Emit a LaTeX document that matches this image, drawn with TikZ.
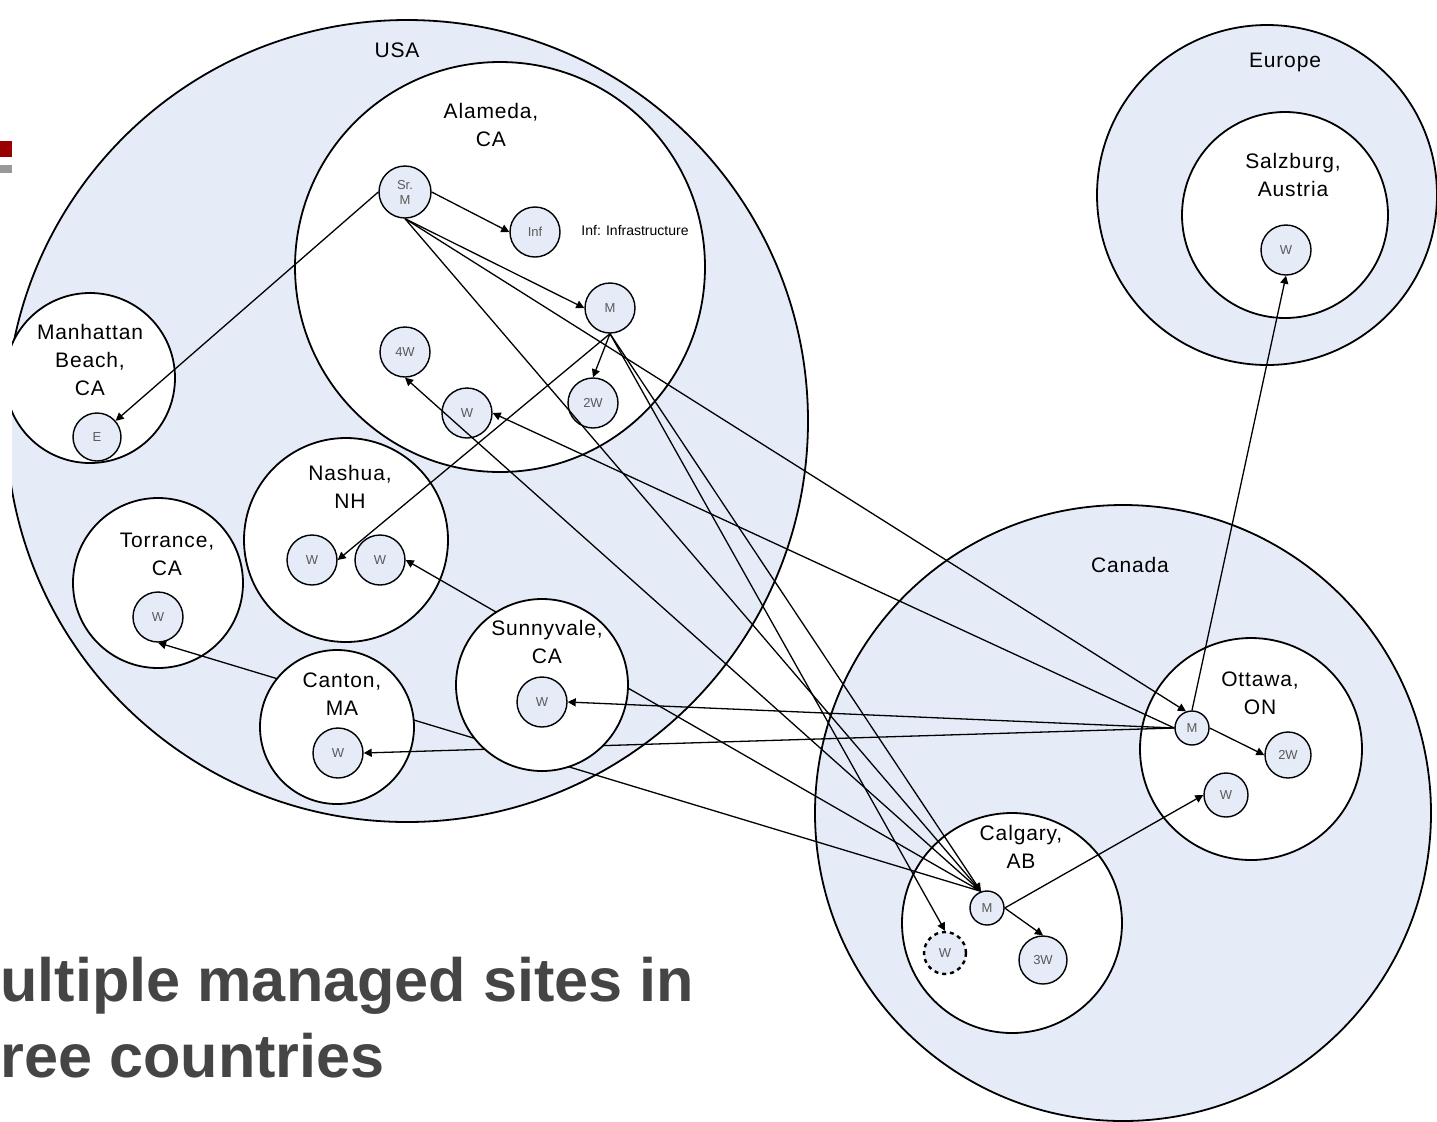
\documentclass[tikz,border=0pt]{standalone}
\usepackage{fontspec}
\setmainfont{Liberation Sans}
\newfontfamily\lblfont[LetterSpace=4]{Liberation Sans}
\usetikzlibrary{arrows.meta}
\definecolor{cbl}{RGB}{229,235,247}
\definecolor{ttl}{RGB}{69,69,69}
\definecolor{dred}{RGB}{153,0,0}
\definecolor{ntxt}{RGB}{90,90,90}
\begin{document}
\begin{tikzpicture}[x=0.5pt,y=-0.5pt,
  country/.style={circle, draw, line width=0.9pt, fill=cbl, inner sep=0pt},
  site/.style={circle, draw, line width=0.9pt, fill=white, inner sep=0pt},
  comp/.style={circle, draw, line width=0.7pt, fill=cbl, inner sep=0pt, align=center,
    font=\fontsize{6.5}{7.5}\selectfont, text=ntxt},
  lbl/.style={font=\lblfont\fontsize{10.5}{14}\selectfont, align=center, inner sep=0pt},
  arr/.style={-{Triangle[length=4pt,width=4pt]}, line width=0.65pt},
  ttlstyle/.style={anchor=base west, inner sep=0pt, font=\fontsize{30.6}{37}\selectfont\bfseries, text=ttl},
]
\useasboundingbox (0,0) rectangle (1437,1121);
\fill[white] (0,0) rectangle (1437,1121);
\fill[dred] (0,141) rectangle (12,157);
\fill[black!40] (0,165) rectangle (12,173);
\begin{scope}
\clip (12,0) rectangle (1437,1121);
% countries
\node[country, minimum size=401pt] (usa) at (407,421) {};
\node[country, minimum size=308pt] (canada) at (1123,813) {};
\node[country, minimum size=170pt] (europe) at (1267,195) {};
\node[lbl] (usaL) at (397,50) {USA};
\node[lbl] (canadaL) at (1130,565) {Canada};
\node[lbl] (europeL) at (1285,62) {Europe};
% sites
\node[site, minimum size=205pt] (alameda) at (500,267) {};
\node[site, minimum size=85pt] (manhattan) at (90,378) {};
\node[site, minimum size=85pt] (torrance) at (158,583) {};
\node[site, minimum size=102pt] (nashua) at (346,540) {};
\node[site, minimum size=111pt] (ottawa) at (1251,749) {};
\node[site, minimum size=110pt] (calgary) at (1012,923) {};
\node[site, minimum size=103pt] (salzburg) at (1285,215) {};
\node[lbl] (alamedaL) at (491,125) {Alameda,\\CA};
\node[lbl] (manhattanL) at (90,360) {Manhattan\\Beach,\\CA};
\node[lbl] (torranceL) at (167,554) {Torrance,\\CA};
\node[lbl] (nashuaL) at (350,487) {Nashua,\\NH};
\node[lbl] (ottawaL) at (1260,693) {Ottawa,\\ON};
\node[lbl] (calgaryL) at (1021,847) {Calgary,\\AB};
\node[lbl] (salzburgL) at (1293,175) {Salzburg,\\Austria};
\node[font=\fontsize{7}{8}\selectfont, inner sep=0pt] (infL) at (635,230) {Inf: Infrastructure};
% components
\node[comp, minimum size=26pt] (srm) at (405,192) {Sr.\\M};
\node[comp, minimum size=25pt] (inf) at (535,232) {Inf};
\node[comp, minimum size=25pt] (almM) at (610,308) {M};
\node[comp, minimum size=25pt] (w4) at (405,352) {4W};
\node[comp, minimum size=25pt] (walm) at (467,413) {W};
\node[comp, minimum size=25pt] (a2w) at (593,403) {2W};
\node[comp, minimum size=24pt] (eE) at (97,437) {E};
\node[comp, minimum size=25pt] (nwl) at (312,560) {W};
\node[comp, minimum size=25pt] (nwr) at (380,560) {W};
\node[comp, minimum size=25pt] (tw) at (158,617) {W};
\node[comp, minimum size=25pt] (salW) at (1286,250) {W};
\node[comp, minimum size=17pt] (ottM) at (1192,728) {M};
\node[comp, minimum size=23pt] (o2w) at (1288,755) {2W};
\node[comp, minimum size=22pt] (ow) at (1226,795) {W};
\node[comp, minimum size=17pt] (calM) at (987,908) {M};
\node[comp, minimum size=21pt, line width=1.2pt, dash pattern=on 2pt off 2pt] (wd) at (945,953) {W};
\node[comp, minimum size=24pt] (c3w) at (1043,960) {3W};
% connectors
\draw[arr] (srm.east) -- (inf.west);
\draw[arr] (srm.west) -- (eE);
\draw[arr] (srm.south) -- (almM.west);
\draw[arr] (srm.south) -- (ottM.110);
\draw[arr] (srm.south) -- (calM.110);
\draw[arr] (almM.south) -- (a2w.north);
\draw[arr] (almM.south) -- (nwl.east);
\draw[arr] (almM.south) -- (calM.110);
\draw[arr] (almM.south) -- (wd.north);
\draw[arr] (ottM.west) -- (walm.east);
\draw[arr] (calM.110) -- (w4.south);
\draw[arr] (calM.110) -- (nwr.east);
\draw[arr] (calM.110) -- (tw.south);
\draw[arr] (calM.east) -- (c3w.north);
\draw[arr] (calM.east) -- (ow.west);
\draw[arr] (ottM.east) -- (o2w.west);
\draw[arr] (ottM.north) -- (salW.south);
% Canton
\node[site, minimum size=77pt] (canton) at (337,727) {};
\node[lbl] (cantonL) at (342,694) {Canton,\\MA};
\node[comp, minimum size=25pt] (cw) at (338,753) {W};
\draw[arr] (ottM.west) -- (cw.east);
% Sunnyvale
\node[site, minimum size=86pt] (sunnyvale) at (542,685) {};
\node[lbl] (sunnyvaleL) at (547,642) {Sunnyvale,\\CA};
\node[comp, minimum size=25pt] (sw) at (542,702) {W};
\draw[arr] (ottM.west) -- (sw.east);
\end{scope}
% title
\node[ttlstyle] (t1) at (0,1001) {ultiple managed sites in};
\node[ttlstyle] (t2) at (0,1077) {ree countries};
\end{tikzpicture}
\end{document}
